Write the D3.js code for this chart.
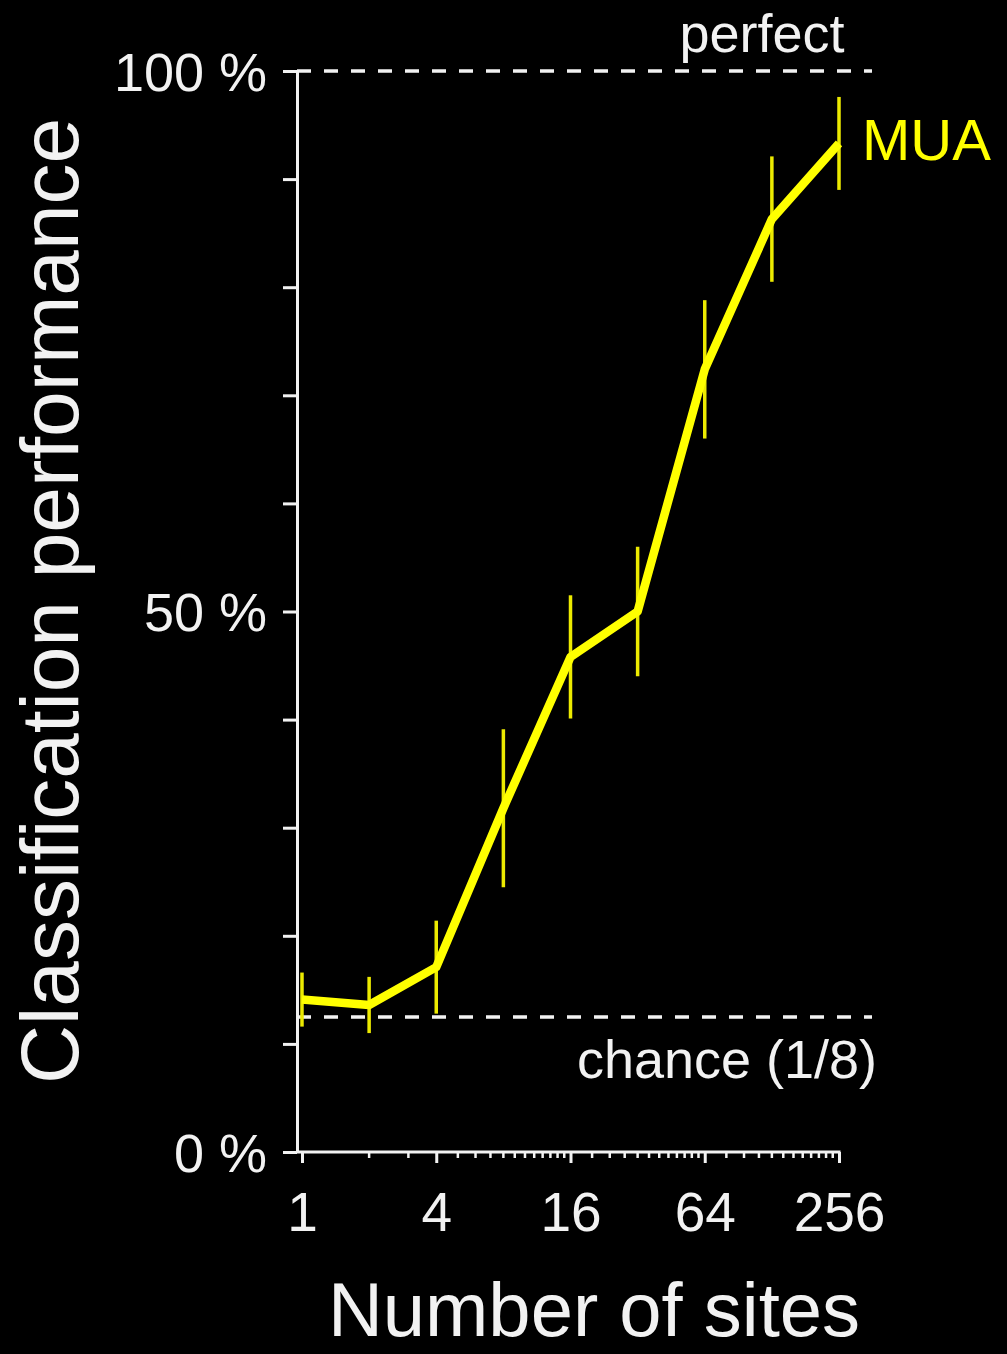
<!DOCTYPE html>
<html>
<head>
<meta charset="utf-8">
<script src="https://cdn.jsdelivr.net/npm/d3@7"></script>
<style>
  html, body { margin: 0; padding: 0; background: #000; }
  svg { display: block; }
  text { font-family: "Liberation Sans", Arial, Helvetica, sans-serif; fill: #f2f2f2; }
</style>
</head>
<body>
<div id="chart"></div>
<script>
// data
const sites = [1, 2, 4, 8, 16, 32, 64, 128, 256];
const performance = [14.1, 13.6, 17.1, 31.8, 45.8, 50.0, 72.4, 86.3, 93.3];
const errors = [2.5, 2.6, 4.3, 7.3, 5.7, 6.0, 6.4, 5.8, 4.3];

const xMajorTicks = [1, 4, 16, 64, 256];
const xMinorTicks = [2, 3, 5, 6, 7, 8, 9, 10, 11, 12, 13, 14, 15,
    20, 24, 28, 32, 36, 40, 44, 48, 52, 56, 60,
    80, 96, 112, 128, 144, 160, 176, 192, 208, 224, 240];
const yTicks = [0, 10, 20, 30, 40, 50, 60, 70, 80, 90, 100];
const yLabels = { 0: "0 %", 50: "50 %", 100: "100 %" };
const chanceLevel = 12.5;
const perfectLevel = 100;

const width = 1007, height = 1354;
const yAxisX = 297;

const svg = d3.select("#chart").append("svg")
    .attr("width", width)
    .attr("height", height);

svg.append("rect").attr("width", width).attr("height", height).attr("fill", "#000");

const x = d3.scaleLog().base(2).domain([1, 256]).range([302, 839]);
const y = d3.scaleLinear().domain([0, 100]).range([1152, 71]);

const white = "#f2f2f2";
const yellow = "#ffff00";

// y axis
const yAxis = svg.append("g").attr("transform", `translate(${yAxisX},0)`)
    .call(d3.axisLeft(y).tickValues(yTicks).tickSize(14).tickSizeOuter(0).tickFormat(d => yLabels[d] || ""));
yAxis.select(".domain").attr("stroke", white).attr("stroke-width", 3);
yAxis.selectAll(".tick line").attr("stroke", white).attr("stroke-width", 3);
yAxis.selectAll(".tick text")
    .attr("x", -30)
    .attr("dy", "0.36em")
    .style("font-size", "54px")
    .style("font-family", "Liberation Sans, Arial, sans-serif")
    .attr("fill", white);

// x axis
const xAxis = svg.append("g").attr("transform", `translate(0,${y(0)})`)
    .call(d3.axisBottom(x).tickValues(xMajorTicks).tickSize(11).tickSizeOuter(0).tickFormat(d3.format("d")));
xAxis.select(".domain").remove();
xAxis.selectAll(".tick line").attr("stroke", white).attr("stroke-width", 3);
xAxis.selectAll(".tick text")
    .attr("y", 40)
    .attr("dy", "0.71em")
    .style("font-size", "55px")
    .style("font-family", "Liberation Sans, Arial, sans-serif")
    .attr("fill", white);

xAxis.selectAll(".minor")
    .data(xMinorTicks)
    .enter()
    .append("line")
    .attr("class", "minor")
    .attr("x1", d => x(d)).attr("x2", d => x(d))
    .attr("y1", 0).attr("y2", 6)
    .attr("stroke", white).attr("stroke-width", 2.5);

xAxis.append("line")
    .attr("x1", yAxisX - 1).attr("x2", x(256) + 1.5)
    .attr("y1", 0).attr("y2", 0)
    .attr("stroke", white).attr("stroke-width", 3);

// reference lines
const refLines = [perfectLevel, chanceLevel];
svg.selectAll(".ref")
    .data(refLines)
    .enter()
    .append("line")
    .attr("class", "ref")
    .attr("x1", yAxisX).attr("x2", 872)
    .attr("y1", d => y(d)).attr("y2", d => y(d))
    .attr("stroke", white)
    .attr("stroke-width", 3.5)
    .attr("stroke-dasharray", "14,13");

svg.append("text")
    .attr("x", 762).attr("y", y(perfectLevel) - 19)
    .attr("text-anchor", "middle")
    .style("font-size", "54px")
    .text("perfect");

svg.append("text")
    .attr("x", 727).attr("y", y(chanceLevel) + 61)
    .attr("text-anchor", "middle")
    .style("font-size", "54px")
    .text("chance (1/8)");

// error bars
svg.selectAll(".err")
    .data(sites)
    .enter()
    .append("line")
    .attr("class", "err")
    .attr("x1", d => x(d)).attr("x2", d => x(d))
    .attr("y1", (d, i) => y(performance[i] + errors[i]))
    .attr("y2", (d, i) => y(performance[i] - errors[i]))
    .attr("stroke", "#ecea00")
    .attr("stroke-width", 3.5);

// main line
const line = d3.line()
    .x(d => x(d[0]))
    .y(d => y(d[1]));

svg.append("path")
    .datum(sites.map((s, i) => [s, performance[i]]))
    .attr("d", line)
    .attr("fill", "none")
    .attr("stroke", yellow)
    .attr("stroke-width", 8.5)
    .attr("stroke-linejoin", "round");

svg.append("text")
    .attr("x", 862).attr("y", 160)
    .style("font-size", "58px")
    .style("fill", yellow)
    .text("MUA");

// axis titles
svg.append("text")
    .attr("transform", "translate(78,601) rotate(-90)")
    .attr("text-anchor", "middle")
    .style("font-size", "82px")
    .text("Classification performance");

svg.append("text")
    .attr("x", 594).attr("y", 1336)
    .attr("text-anchor", "middle")
    .style("font-size", "76px")
    .text("Number of sites");
</script>
</body>
</html>
